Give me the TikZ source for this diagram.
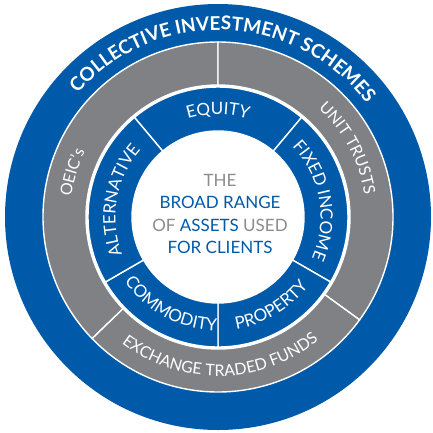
\documentclass[tikz,border=0pt]{standalone}
\usepackage{fontspec}
\setmainfont{Lato}
\usepackage{tikz}
\usetikzlibrary{decorations.text}

\definecolor{cisblue}{RGB}{0,90,170}
\definecolor{cisgrey}{RGB}{128,129,133}
\definecolor{txtgrey}{RGB}{140,140,140}

\newcommand{\titlefont}{\fontsize{19}{19}\bfseries\selectfont}
\newcommand{\ringfont}{\fontsize{16}{16}\selectfont}
\newcommand{\assetfont}{\fontsize{17}{17}\selectfont}

\tikzset{
  band/.style={draw=white, line width=1.4pt},
  arclabel/.style={decorate, decoration={text along path, text align=center, text color=white, text={#1}}},
}

\begin{document}
\begin{tikzpicture}[x=1pt,y=1pt]
\useasboundingbox (-218,-215) rectangle (215,217);
\def\rout{213pt}
\def\rgo{175pt}
\def\rgi{132pt}
\def\rbo{130pt}
\def\rbi{86pt}
% outer ring
\fill[cisblue] (0,0) circle (\rout);
\fill[white] (0,0) circle (\rgi);
{\titlefont
\path[arclabel={COLLECTIVE INVESTMENT SCHEMES}] (178:187pt) arc (178:-2:187pt);}
% fund types
\filldraw[band, fill=cisgrey] (90:\rgo) arc (90:224:\rgo) -- (224:\rgi) arc (224:90:\rgi) -- cycle;
\filldraw[band, fill=cisgrey] (-36:\rgo) arc (-36:90:\rgo) -- (90:\rgi) arc (90:-36:\rgi) -- cycle;
\filldraw[band, fill=cisgrey] (224:\rgo) arc (224:324:\rgo) -- (324:\rgi) arc (324:224:\rgi) -- cycle;
{\ringfont
\path[arclabel={OEIC’s}] (223:148pt) arc (223:103:148pt);
\path[arclabel={UNIT TRUSTS}] (88:148pt) arc (88:-32:148pt);
\path[arclabel={EXCHANGE TRADED FUNDS}] (201:159pt) arc (201:341:159pt);}
% asset classes
\filldraw[band, fill=cisblue] (50:\rbo) arc (50:130:\rbo) -- (130:\rbi) arc (130:50:\rbi) -- cycle;
\filldraw[band, fill=cisblue] (-30:\rbo) arc (-30:50:\rbo) -- (50:\rbi) arc (50:-30:\rbi) -- cycle;
\filldraw[band, fill=cisblue] (-90:\rbo) arc (-90:-30:\rbo) -- (-30:\rbi) arc (-30:-90:\rbi) -- cycle;
\filldraw[band, fill=cisblue] (210:\rbo) arc (210:270:\rbo) -- (270:\rbi) arc (270:210:\rbi) -- cycle;
\filldraw[band, fill=cisblue] (130:\rbo) arc (130:210:\rbo) -- (210:\rbi) arc (210:130:\rbi) -- cycle;
{\assetfont
\path[arclabel={EQUITY}] (150:102.5pt) arc (150:30:102.5pt);
\path[arclabel={FIXED INCOME}] (70:102.5pt) arc (70:-50:102.5pt);
\path[arclabel={PROPERTY}] (241:113.5pt) arc (241:361:113.5pt);
\path[arclabel={COMMODITY}] (182:113.5pt) arc (182:302:113.5pt);
\path[arclabel={ALTERNATIVE}] (230:102.5pt) arc (230:110:102.5pt);}
% centre
\node[align=center, font=\fontsize{17}{22.5}\selectfont, text=cisblue] (hub) at (2,3)
  {\textcolor{txtgrey}{THE}\\BROAD RANGE\\\textcolor{txtgrey}{OF} ASSETS \textcolor{txtgrey}{USED}\\FOR CLIENTS};
\end{tikzpicture}
\end{document}
